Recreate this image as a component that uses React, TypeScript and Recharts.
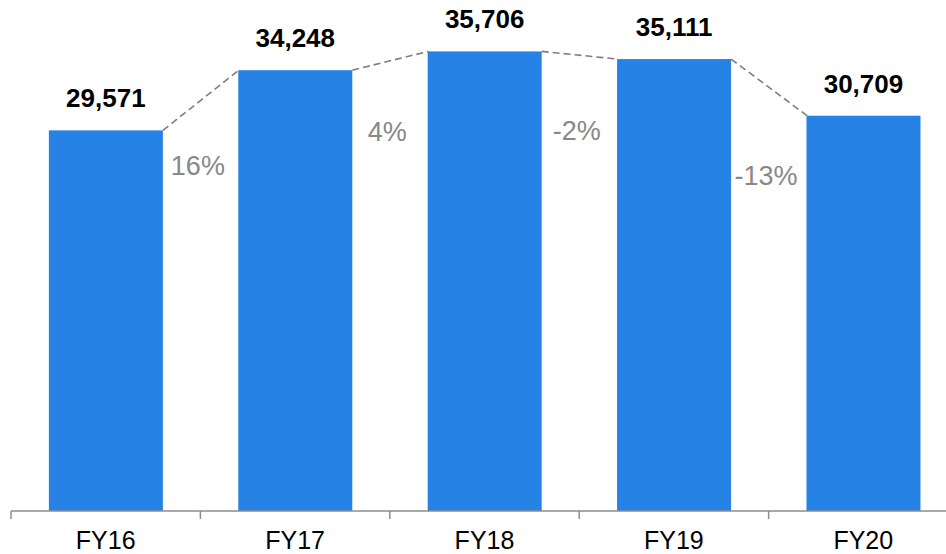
import React from 'react';
import { BarChart, Bar, XAxis, YAxis } from 'recharts';

const categories = ['FY16', 'FY17', 'FY18', 'FY19', 'FY20'];
const revenue = [29571, 34248, 35706, 35111, 30709];
const growthLabels = ['16%', '4%', '-2%', '-13%'];

const data = categories.map((name, i) => ({ name, value: revenue[i] }));

const FONT = '"Liberation Sans", Arial, sans-serif';
const BAR_COLOR = '#2682E4';
const GRAY = '#888888';
const CHART_W = 960;
const MARGIN = { top: 0, right: 2, bottom: 0, left: 11 };
const BAND = (CHART_W - MARGIN.left - MARGIN.right) / categories.length;
const GAP = 0.2;
// vertical offset of each growth label below the lower end of its connector
const growthDy = [36, 62, 72, 60];

const BarWithConnector = (props: any) => {
  const { x, y, width, height, index } = props;
  const value = revenue[index];
  const base = y + height;
  const pxPerUnit = height / value;
  const next = revenue[index + 1];
  let connector = null;
  if (next !== undefined) {
    const x1 = x + width;
    const x2 = x + width + (width * 2 * GAP) / (1 - 2 * GAP);
    const y2 = base - next * pxPerUnit;
    const lower = Math.max(y, y2);
    connector = (
      <g>
        <line x1={x1} y1={y} x2={x2} y2={y2} stroke="#7f7f7f" strokeWidth={1.6} strokeDasharray="7 4" />
        <text
          x={(x1 + x2) / 2 - 3}
          y={lower + growthDy[index]}
          textAnchor="middle"
          dominantBaseline="central"
          fill={GRAY}
          fontSize={27}
          fontFamily={FONT}
        >
          {growthLabels[index]}
        </text>
      </g>
    );
  }
  return (
    <g>
      <rect x={x} y={y} width={width} height={height} fill={BAR_COLOR} />
      <text
        x={x + width / 2}
        y={y - 23}
        textAnchor="middle"
        fill="#000"
        fontSize={26}
        fontWeight="bold"
        fontFamily={FONT}
      >
        {value.toLocaleString('en-US')}
      </text>
      {connector}
    </g>
  );
};

const CategoryTick = (props: any) => {
  const { x, y, payload, index } = props;
  return (
    <g>
      <line x1={x - BAND / 2} y1={y} x2={x - BAND / 2} y2={y + 8} stroke="#8c8c8c" strokeWidth={1.5} />
      {index === categories.length - 1 && (
        <line x1={x + BAND / 2} y1={y} x2={x + BAND / 2} y2={y + 8} stroke="#8c8c8c" strokeWidth={1.5} />
      )}
      <text x={x} y={y + 38} textAnchor="middle" fill="#000" fontSize={25} fontFamily={FONT}>
        {payload.value}
      </text>
    </g>
  );
};

export default function App() {
  return (
    <div style={{ position: 'absolute', left: 0, top: 0, width: 946, height: 554, overflow: 'hidden', background: '#fff' }}>
      <BarChart width={CHART_W} height={554} data={data} margin={MARGIN} barCategoryGap={`${GAP * 100}%`}>
        <XAxis
          dataKey="name"
          height={43}
          tickSize={0}
          tickMargin={0}
          tickLine={false}
          axisLine={{ stroke: '#8c8c8c', strokeWidth: 1.5 }}
          tick={<CategoryTick />}
          interval={0}
        />
        <YAxis hide domain={[0, 39700]} />
        <Bar dataKey="value" shape={<BarWithConnector />} isAnimationActive={false} />
      </BarChart>
    </div>
  );
}
